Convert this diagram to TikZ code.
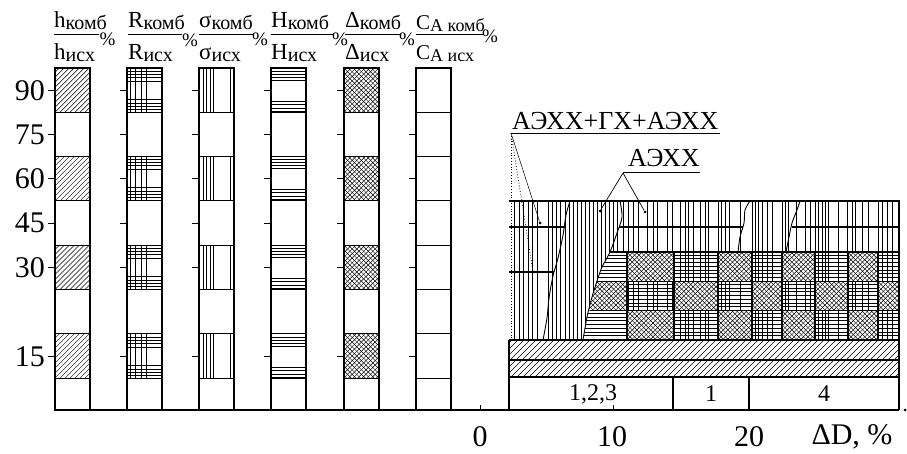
\documentclass[tikz,border=0pt]{standalone}
\usepackage{fontspec}
\setmainfont{Liberation Serif}
\newcommand\sbx[1]{\raisebox{-2pt}{\fontsize{20}{20}\selectfont #1}}
\newcommand\nehatch[4]{%
 \begin{scope}\clip (#1,#2) rectangle (#3,#4);
 \foreach \k in {0,5,...,130} \draw[hl] ({#1-60+\k},#4) -- ++(70,-70);
 \end{scope}}
\newcommand\xhatch[4]{%
 \begin{scope}\clip (#1,#2) rectangle (#3,#4);
 \fill[white] (#1,#2) rectangle (#3,#4);
 \foreach \k in {0,4.6,...,124} {\draw[hl] ({#1-60+\k},#4) -- ++(70,-70); \draw[hl] ({#1-60+\k},#2) -- ++(70,70);}
 \end{scope}}
\newcommand\pcell[4]{%
 \begin{scope}\clip (#1,#2) rectangle (#3,#4);
 \fill[white] (#1,#2) rectangle (#3,#4);
 \foreach \v in \vlist \draw[hl] (\v,#2) -- (\v,#4);
 \foreach \o in {3,6.5,10,14,18,21.5,25} \draw[hl] (#1,#2+\o) -- (#3,#2+\o);
 \end{scope}}
\newcommand\hcell[4]{%
 \begin{scope}\clip (#1,#2) rectangle (#3,#4);
 \fill[white] (#1,#2) rectangle (#3,#4);
 \foreach \o in {3,6.5,10,14,18,21.5,25} \draw[hl] (#1,#2+\o) -- (#3,#2+\o);
 \end{scope}}
\def\vlist{514,519,523,528,532,537,548,552,556,560,565,569,573,577,581,585,589,593,597,601,605,609,613,617,623,628,633,638,647,653,657,667,672,680,685,688,693,700,705,708,718,721,725,729,740,752,755,758,762,767,772,782,785,788,796,805,810,815,818,822,825,828,838,847,852,855,862,868,878,882,887,892}
\begin{document}
\begin{tikzpicture}[x=1pt,y=-1pt,
  bd/.style={line width=1.1pt},
  hl/.style={line width=0.45pt},
  cv/.style={line width=0.9pt},
  big/.style={inner sep=0pt,font=\fontsize{30}{30}\selectfont},
  mid/.style={inner sep=0pt,font=\fontsize{24}{24}\selectfont},
  ann/.style={inner sep=0pt,anchor=base west,font=\fontsize{26}{26}\selectfont},
  hd/.style={inner sep=0pt,anchor=base west,font=\fontsize{23}{23}\selectfont},
  pc/.style={inner sep=0pt,font=\fontsize{19}{19}\selectfont},
  dotend/.style={circle,fill,inner sep=0pt,minimum size=3pt}
]
\useasboundingbox (0,0) rectangle (907,454);

% ---------- headers ----------
\node[hd] (n1) at (54,28) {h\sbx{комб}};
\node[hd] (d1) at (54,60) {h\sbx{исх}};
\draw[line width=0.8pt] (54,34) -- (99,34);
\node[pc] (p1) at (107.5,39) {\%};
\node[hd] (n2) at (128,28) {R\sbx{комб}};
\node[hd] (d2) at (128,60) {R\sbx{исх}};
\draw[line width=0.8pt] (128,34) -- (182,34);
\node[pc] (p2) at (190,40) {\%};
\node[hd] (n3) at (199,28) {σ\sbx{комб}};
\node[hd] (d3) at (199,60) {σ\sbx{исх}};
\draw[line width=0.8pt] (199,34) -- (253,34);
\node[pc] (p3) at (260,39) {\%};
\node[hd] (n4) at (271,28) {H\sbx{комб}};
\node[hd] (d4) at (271,60) {H\sbx{исх}};
\draw[line width=0.8pt] (271,34) -- (333,34);
\node[pc] (p4) at (340,39) {\%};
\node[hd] (n5) at (345,28) {Δ\sbx{комб}};
\node[hd] (d5) at (345,60) {Δ\sbx{исх}};
\draw[line width=0.8pt] (345,34) -- (400,34);
\node[pc] (p5) at (407,39) {\%};
\node[hd,font=\fontsize{21}{21}\selectfont] (n6) at (416,30) {C\raisebox{-2pt}{\fontsize{18}{18}\selectfont A комб}};
\node[hd,font=\fontsize{21}{21}\selectfont] (d6) at (416,60) {C\raisebox{-2pt}{\fontsize{18}{18}\selectfont A исх}};
\draw[line width=0.8pt] (416,34) -- (483,34);
\node[pc] (p6) at (490,36) {\%};

% ---------- left column patterns ----------
\foreach \t in {68,156.6,245.2,333.8} {
  \nehatch{55}{\t}{90}{\t+44.3}
  \begin{scope}\clip (127,\t) rectangle (162,\t+44.3);
    \foreach \o in {3,8,14,19} \draw[hl] (127+\o,\t) -- (127+\o,\t+44.3);
    \foreach \o in {3,6,9,13,31,35,38,41} \draw[hl] (127,\t+\o) -- (162,\t+\o);
  \end{scope}
  \begin{scope}\clip (199,\t) rectangle (234,\t+44.3);
    \foreach \o in {4,7,11,14,31} \draw[hl] (199+\o,\t) -- (199+\o,\t+44.3);
  \end{scope}
  \begin{scope}\clip (271,\t) rectangle (306,\t+44.3);
    \foreach \o in {3,6,9,12,33,36,40,43} \draw[hl] (271,\t+\o) -- (306,\t+\o);
  \end{scope}
  \xhatch{344}{\t}{379}{\t+44.3}
}
\foreach \cx in {55,127,199,271,344,416} {
  \draw[bd] (\cx,68) rectangle (\cx+35,410);
  \foreach \y in {112.3,156.6,200.9,245.2,289.5,333.8,378.1} \draw[bd] (\cx,\y) -- (\cx+35,\y);
  \foreach \y in {90.2,134.5,178.8,223,267.4,356} \draw[line width=0.9pt] (\cx-7,\y) -- (\cx,\y);
}
% y labels
\node[big,anchor=base east] (y90) at (45,100.2) {90};
\node[big,anchor=base east] (y75) at (45,144.5) {75};
\node[big,anchor=base east] (y60) at (45,188.8) {60};
\node[big,anchor=base east] (y45) at (45,233) {45};
\node[big,anchor=base east] (y30) at (45,277.4) {30};
\node[big,anchor=base east] (y15) at (45,366) {15};

% ---------- right block ----------
\begin{scope}
  \clip (509,201) -- (899,201) -- (899,252) -- (610,252) -- (602,267) -- (597,281) -- (592,297) -- (587,317) -- (583,340) -- (509,340) -- cycle;
  \foreach \v in \vlist \draw[hl] (\v,201) -- (\v,340);
\end{scope}
\begin{scope}
  \clip (610,252) -- (602,267) -- (597,281) -- (592,297) -- (587,317) -- (583,340) -- (899,340) -- (899,252) -- cycle;
  \foreach \rt/\rb/\pr in {252/281.3/0,281.3/310.6/1,310.6/340/0} {
    \foreach \a/\b [count=\i] in {560/627,627/674,674/718,718/752,752/782,782/815,815/848,848/878,878/899} {
      \pgfmathtruncatemacro\ss{mod(\i+\pr,2)}
      \ifnum\ss=0 \xhatch{\a}{\rt}{\b}{\rb}\else
        \ifnum\i=1 \hcell{\a}{\rt}{\b}{\rb}\else \pcell{\a}{\rt}{\b}{\rb}\fi
      \fi
    }
  }
\end{scope}
\begin{scope}\clip (509,340) rectangle (899,377);
  \foreach \k in {0,6,...,432} \draw[hl] (469+\k,377) -- ++(45,-45);
\end{scope}
\foreach \xx in {627,674,718,752,782,815,848,878} \draw[bd] (\xx,252) -- (\xx,340);
\draw[bd] (610,252) -- (899,252);
\draw[bd] (597,281.3) -- (899,281.3);
\draw[bd] (590,310.6) -- (899,310.6);
\draw[bd] (509,227) -- (565,227);
\draw[bd] (509,272) -- (554,272);
\draw[bd] (619,227) -- (743,227);
\draw[bd] (792,227) -- (899,227);
\draw[cv] plot[smooth] coordinates {(570,201) (566,215) (563,235) (558,258) (553,276) (549,298) (547,318) (543,340)};
\draw[cv] plot[smooth] coordinates {(620,201) (622,217) (617,233) (610,252) (602,267) (597,281) (592,297) (587,317) (583,340)};
\draw[cv] plot[smooth] coordinates {(750,201) (745,210) (744,223) (740,237) (738,252)};
\draw[cv] plot[smooth] coordinates {(800,201) (797,210) (792,223) (789,237) (786,252)};
\draw[bd] (509,201) -- (899,201) -- (899,410);
\draw[bd] (509,340) -- (899,340);
\draw[bd] (509,360) -- (899,360);
\draw[bd] (509,377) -- (899,377);
\draw[bd] (509,340) -- (509,410);
\draw[bd] (673,377) -- (673,410);
\draw[bd] (749,377) -- (749,410);
\node[mid] (g123) at (593,394) {1,2,3};
\node[mid] (g1) at (711,394) {1};
\node[mid] (g4) at (824,394) {4};

% axis
\draw[bd] (55,410) -- (899,410);
\node[dotend] (axend) at (905,410) {};
\draw[line width=0.8pt] (480,410) -- (480,405);
\draw[line width=0.8pt] (613,410) -- (613,405);
\node[big] (x0) at (480,437) {0};
\node[big] (x10) at (612,437) {10};
\node[big] (x20) at (749,437) {20};
\node[big] (xl) at (852,437) {ΔD, \%};

% annotations
\node[ann] (a1) at (512,130) {АЭХХ+ГХ+АЭХХ};
\draw[line width=0.8pt] (511,133) -- (720,133);
\coordinate (a1o) at (511,133);
\node[dotend] (a1e1) at (540,223) {};
\node[dotend] (a1e2) at (533,272) {};
\coordinate (a1e3) at (511,340);
\draw[line width=0.5pt] (a1o) -- (a1e1);
\draw[line width=0.8pt, dotted] (a1o) -- (a1e2);
\draw[line width=0.8pt, dotted] (a1o) -- (a1e3);

\node[ann] (a2) at (628,167) {АЭХХ};
\draw[line width=0.8pt] (623,172) -- (700,172);
\coordinate (a2o) at (623,173);
\node[dotend] (a2e1) at (600,211) {};
\node[dotend] (a2e2) at (645,212) {};
\draw[line width=0.7pt] (a2o) -- (a2e1);
\draw[line width=0.7pt] (a2o) -- (a2e2);
\end{tikzpicture}
\end{document}
